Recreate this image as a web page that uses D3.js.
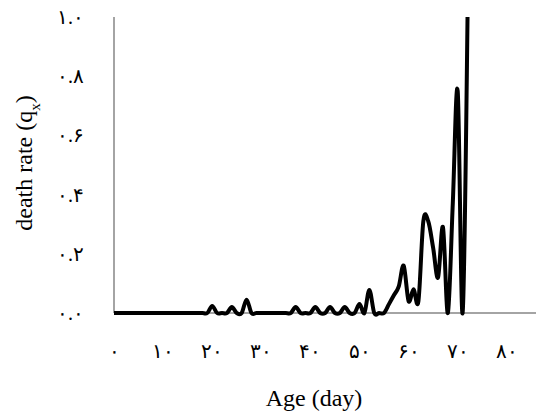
<!DOCTYPE html>
<html>
<head>
<meta charset="utf-8">
<script src="https://cdn.jsdelivr.net/npm/d3@7"></script>
<style>
  body { margin: 0; background: #fff; }
  svg { display: block; }
  .tick-label { font-family: "Times New Roman", "Liberation Serif", "DejaVu Serif", serif; font-size: 20px; fill: #000; }
  .title { font-family: "Times New Roman", "Liberation Serif", serif; font-size: 24px; fill: #000; }
</style>
</head>
<body>
<div id="chart"></div>
<script>
// Age (day) and death rate qx
var ages = [0, 1, 2, 3, 4, 5, 6, 7, 8, 9, 10, 11, 12, 13, 14, 15, 16, 17, 18, 19,
            20, 21, 22, 23, 24, 25, 26, 27, 28, 29, 30, 31, 32, 33, 34, 35, 36, 37, 38, 39,
            40, 41, 42, 43, 44, 45, 46, 47, 48, 49, 50, 51, 52, 53, 54, 55, 56, 57, 58, 59,
            60, 61, 62, 63, 64, 65, 66, 67, 68, 69, 70, 71, 72];
var qx = [0, 0, 0, 0, 0, 0, 0, 0, 0, 0, 0, 0, 0, 0, 0, 0, 0, 0, 0, 0,
          0.024, 0, 0, 0, 0.02, 0, 0, 0.045, 0, 0, 0, 0, 0, 0, 0, 0, 0, 0.02, 0, 0,
          0, 0.02, 0, 0, 0.02, 0, 0, 0.02, 0, 0, 0.03, 0, 0.078, 0, 0, 0, 0.03, 0.06, 0.09, 0.16,
          0.04, 0.08, 0.04, 0.31, 0.31, 0.22, 0.12, 0.29, 0, 0.37, 0.75, 0, 1.0];

var xTicks = [0, 10, 20, 30, 40, 50, 60, 70, 80];
var yTicks = [0, 0.2, 0.4, 0.6, 0.8, 1.0];

var width = 536,
    height = 415;

var x = d3.scaleLinear().domain([0, 90]).range([114, 114 + 90 * 4.91]);
var y = d3.scaleLinear().domain([0, 1]).range([313, 17]);

// Persian digits for the tick labels
var fa = '۰۱۲۳۴۵۶۷۸۹';
function toFa(s) {
    return String(s).replace(/[0-9]/g, function(c) { return fa[+c]; });
}

var svg = d3.select('#chart')
    .append('svg')
    .attr('width', width)
    .attr('height', height);

// Axes lines
svg.append('line')
    .attr('x1', x(0)).attr('x2', width)
    .attr('y1', y(0)).attr('y2', y(0))
    .attr('stroke', '#868686').attr('stroke-width', 1.5);

svg.append('line')
    .attr('x1', x(0)).attr('x2', x(0))
    .attr('y1', y(1)).attr('y2', y(0))
    .attr('stroke', '#868686').attr('stroke-width', 1.5);

// Tick labels
svg.append('g')
    .selectAll('text')
    .data(yTicks)
    .enter()
    .append('text')
    .classed('tick-label', true)
    .attr('x', 84)
    .attr('y', function(d) { return y(d); })
    .attr('dy', '0.35em')
    .attr('text-anchor', 'end')
    .text(function(d) { return toFa(d.toFixed(1)); });

svg.append('g')
    .selectAll('text')
    .data(xTicks)
    .enter()
    .append('text')
    .classed('tick-label', true)
    .attr('x', function(d) { return x(d); })
    .attr('y', 358)
    .attr('text-anchor', 'middle')
    .text(function(d) { return toFa(d); });

// Data line (smoothed)
var line = d3.line()
    .x(function(d, i) { return x(ages[i]); })
    .y(function(d) { return y(d); })
    .curve(d3.curveCardinal.tension(0));

svg.append('path')
    .datum(qx)
    .attr('d', line)
    .attr('fill', 'none')
    .attr('stroke', '#000')
    .attr('stroke-width', 4)
    .attr('stroke-linejoin', 'round');

// Axis titles
svg.append('text')
    .classed('title', true)
    .attr('x', 314)
    .attr('y', 406)
    .attr('text-anchor', 'middle')
    .text('Age (day)');

var yt = svg.append('text')
    .classed('title', true)
    .attr('transform', 'translate(32,163) rotate(-90)')
    .attr('text-anchor', 'middle');
yt.append('tspan').text('death rate (q');
yt.append('tspan').attr('baseline-shift', 'sub').attr('font-size', '15px').text('x');
yt.append('tspan').text(')');
</script>
</body>
</html>
